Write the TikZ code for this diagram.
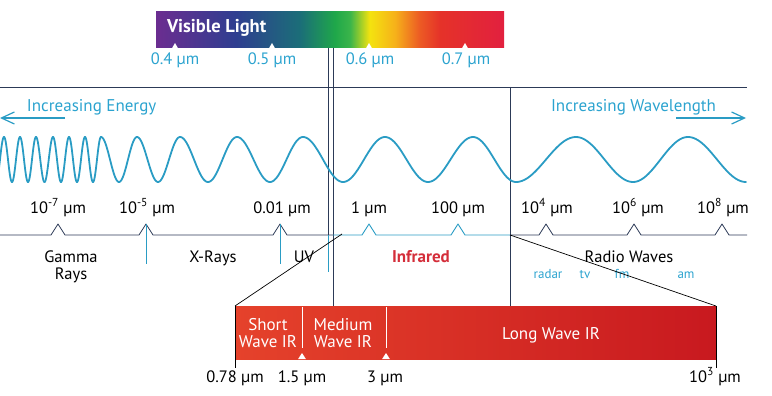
\documentclass[tikz,border=0pt]{standalone}
\usepackage{fontspec}
\setmainfont{PT Sans}
\usetikzlibrary{arrows.meta}
\definecolor{wavec}{HTML}{2A9CC4}
\definecolor{cyant}{HTML}{2BA3CF}
\definecolor{navy}{HTML}{2C3A57}
\definecolor{irred}{HTML}{D42E3A}
\definecolor{irL}{HTML}{E5422B}
\definecolor{irR}{HTML}{C8191F}
\definecolor{v1}{HTML}{6B2D90}
\definecolor{v2}{HTML}{2F3E90}
\definecolor{v3}{HTML}{1B6E78}
\definecolor{v4}{HTML}{1FA74A}
\definecolor{v5}{HTML}{3BB54A}
\definecolor{v6}{HTML}{F4E30F}
\definecolor{v7}{HTML}{F6B21A}
\definecolor{v8}{HTML}{EC5A24}
\definecolor{v9}{HTML}{E53229}
\definecolor{v10}{HTML}{E2203F}
\pgfdeclarehorizontalshading{visshade}{100bp}{color(0bp)=(v1); color(25bp)=(v1); color(36.4bp)=(v2); color(45.7bp)=(v3); color(50.7bp)=(v4); color(52.9bp)=(v5); color(55.7bp)=(v6); color(59.3bp)=(v7); color(62.9bp)=(v8); color(65.8bp)=(v9); color(75bp)=(v10); color(100bp)=(v10)}
\tikzset{
  every node/.style={inner sep=0pt, outer sep=0pt},
  txt/.style={font=\fontsize{16.5}{18}\selectfont, text=black, anchor=base},
  ctxt/.style={txt, text=cyant},
  captxt/.style={font=\fontsize{17}{19}\selectfont, text=cyant, anchor=base},
  smalltxt/.style={font=\fontsize{13}{15}\selectfont, text=cyant, anchor=base},
  wtxt/.style={font=\fontsize{17}{19}\selectfont, text=white, anchor=base},
  navyline/.style={draw=navy, line width=0.8pt},
  cyanline/.style={draw=wavec, line width=0.9pt},
  arr/.style={draw=wavec, line width=1.4pt, -{Straight Barb[length=13pt,width=12pt,line width=1.2pt]}},
  wcaret/.style={fill=white, draw=none},
}
\begin{document}
\begin{tikzpicture}[x=1pt,y=-1pt]
\useasboundingbox (0,0) rectangle (772,396);

% visible light bar
\shade[shading=visshade] (156,12) rectangle (504,48);
\foreach \t in {175,272,369,465}{\fill[wcaret] (\t-3,48.2) -- (\t,43) -- (\t+3,48.2) -- cycle;}
\node[wtxt, font=\fontsize{18.5}{20}\selectfont\bfseries, anchor=base west] (vis) at (167,33) {Visible Light};
\node[ctxt] (v04) at (175,65) {0.4 µm};
\node[ctxt] (v05) at (272,65) {0.5 µm};
\node[ctxt] (v06) at (370,65) {0.6 µm};
\node[ctxt] (v07) at (466,65) {0.7 µm};

% frame lines
\draw[navyline] (0,87) -- (747,87);
\draw[navyline] (328,48) -- (328,235);
\draw[navyline] (333,48) -- (333,306);
\draw[navyline] (510,87) -- (510,306);

% arrows and captions
\coordinate (eL) at (0,118); \coordinate (eR) at (65,118);
\draw[arr] (eR) -- (eL);
\node[captxt, anchor=base west] (ie) at (27,112) {Increasing Energy};
\coordinate (wL) at (676,118); \coordinate (wR) at (746,118);
\draw[arr] (wL) -- (wR);
\node[captxt, anchor=base east] (iw) at (716,112) {Increasing Wavelength};

% wave
\begin{scope}
\clip (0,100) rectangle (760,200);
\foreach \a/\b/\s in {-4/4/1, 4/12/-1, 12/20/1, 20/28/-1, 28/36/1, 36/44.5/-1, 44.5/53/1, 53/61/-1, 61/69/1, 69/77/-1, 77/85/1, 85/93/-1, 93/101/1, 101/119/-1, 119/137/1, 137/158/-1, 158/180/1, 180/208/-1, 208/237/1, 237/270/-1, 270/303/1, 303/343/-1, 343/385/1, 385/428/-1, 428/473/1, 473/516/-1, 516/576/1, 576/633/-1, 633/688/1, 688/746/-1}{
  \draw[wavec, line width=1.8pt, line cap=round] plot[domain=\a:\b, samples=30, smooth] (\x, {159.5 + \s*22.5*cos(180*(\x-\a)/(\b-\a))});
}
\end{scope}

% tick labels
\node[txt] (t1) at (58,213) {10\textsuperscript{-7} µm};
\node[txt] (t2) at (147,213) {10\textsuperscript{-5} µm};
\node[txt] (t3) at (282,213) {0.01 µm};
\node[txt] (t4) at (369,213) {1 µm};
\node[txt] (t5) at (458,213) {100 µm};
\node[txt] (t6) at (547,213) {10\textsuperscript{4} µm};
\node[txt] (t7) at (638,213) {10\textsuperscript{6} µm};
\node[txt] (t8) at (723,213) {10\textsuperscript{8} µm};

% axis with carets
\draw[navyline, line join=round] (0,235) -- (51,235) -- (58,224) -- (65,235) -- (139,235) -- (146,224) -- (153,235) -- (273,235) -- (280,224) -- (287,235) -- (333,235);
\draw[cyanline, line join=round] (333,235) -- (362,235) -- (369,224) -- (376,235) -- (451,235) -- (458,224) -- (465,235) -- (510,235);
\draw[navyline, line join=round] (510,235) -- (539,235) -- (546,224) -- (553,235) -- (627,235) -- (634,224) -- (641,235) -- (715,235) -- (722,224) -- (729,235) -- (747,235);
\draw[cyanline] (146,224) -- (146,264);
\draw[cyanline] (280,224) -- (280,264);
\draw[cyanline] (328,235) -- (328,272);

% region labels
\node[txt] (g1) at (71,262) {Gamma};
\node[txt] (g2) at (71,279) {Rays};
\node[txt] (xr) at (213,262) {X-Rays};
\node[txt] (uv) at (304,262) {UV};
\node[txt, text=irred, font=\fontsize{17}{19}\selectfont\bfseries] (ir) at (421,262) {Infrared};
\node[txt] (rw) at (629,262) {Radio Waves};
\node[smalltxt] (ra) at (548,278) {radar};
\node[smalltxt] (tv) at (585,278) {tv};
\node[smalltxt] (fm) at (622,278) {fm};
\node[smalltxt] (am) at (686,278) {am};

% red bar
\shade[left color=irL, right color=irR] (235,306) rectangle (716,359);
\draw[white, line width=0.8pt] (302,307) -- (302,348);
\draw[white, line width=0.8pt] (386,307) -- (386,348);
\foreach \t in {302,386}{\fill[wcaret] (\t-4,359.2) -- (\t,353) -- (\t+4,359.2) -- cycle;}
\node[wtxt] (sw1) at (268,330) {Short};
\node[wtxt] (sw2) at (268,347) {Wave IR};
\node[wtxt] (mw1) at (343,330) {Medium};
\node[wtxt] (mw2) at (343,347) {Wave IR};
\node[wtxt] (lw) at (551,339) {Long Wave IR};

% zoom lines
\coordinate (zl1) at (342,234); \coordinate (zl2) at (235,306);
\coordinate (zr1) at (510,235); \coordinate (zr2) at (716,306);
\draw[black, line width=0.7pt] (zl1) -- (zl2);
\draw[black, line width=0.7pt] (zr1) -- (zr2);
\draw[black, line width=0.7pt] (235,306) -- (235,368);
\draw[black, line width=0.7pt] (716,306) -- (716,368);

% bottom labels
\node[txt] (b1) at (235,382) {0.78 µm};
\node[txt] (b2) at (302,382) {1.5 µm};
\node[txt] (b3) at (385,382) {3 µm};
\node[txt] (b4) at (715,382) {10\textsuperscript{3} µm};
\end{tikzpicture}
\end{document}
